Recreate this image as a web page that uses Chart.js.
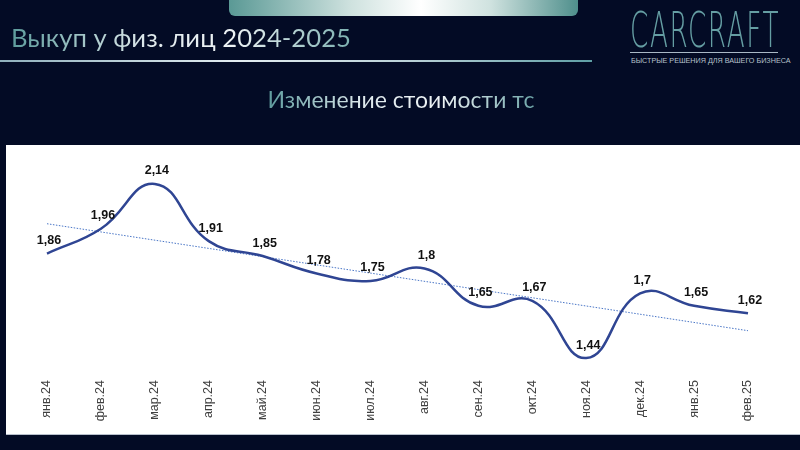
<!DOCTYPE html>
<html lang="ru">
<head>
    <meta charset="UTF-8">
    <title>Выкуп у физ. лиц 2024-2025</title>
    <style>
        body {
            margin: 0;
            width: 800px;
            height: 450px;
            background-color: #030b25;
            font-family: Lato, "Noto Sans", sans-serif;
            position: relative;
            overflow: hidden;
        }

        .top-bar {
            position: absolute;
            left: 229px;
            top: 0;
            width: 349px;
            height: 16px;
            border-radius: 0 0 6px 6px;
            background: linear-gradient(90deg, #5a9995 0%, #cfe2df 35%, #ffffff 55%, #cfe2df 75%, #4f8f8c 100%);
        }

        .title {
            position: absolute;
            left: 11px;
            top: 22px;
            font-size: 25.7px;
            white-space: nowrap;
            background: linear-gradient(90deg, #5d9c9c 0%, #dfe9ec 40%, #eef3f5 65%, #7db1b1 100%);
            -webkit-background-clip: text;
            background-clip: text;
            color: transparent;
        }

        .title-line {
            position: absolute;
            left: 0;
            top: 60px;
            width: 592px;
            height: 2px;
            background: linear-gradient(90deg, #8fb0bc 0%, #e4eef2 40%, #b8d0d6 70%, #5f9fa5 100%);
        }

        .logo {
            position: absolute;
            left: 630px;
            top: 1px;
            font-family: "DejaVu Sans", sans-serif;
            font-weight: 200;
            font-size: 50px;
            line-height: 58px;
            letter-spacing: 3px;
            color: #659ea3;
            transform-origin: left top;
            white-space: nowrap;
        }

        .logo-line {
            position: absolute;
            left: 630px;
            top: 52px;
            width: 148px;
            height: 1px;
            background: #a9b8c6;
        }

        .logo-sub {
            position: absolute;
            left: 631px;
            top: 56px;
            font-family: "Liberation Sans", sans-serif;
            font-size: 7.2px;
            color: #b7c2cc;
            white-space: nowrap;
        }

        .subtitle {
            position: absolute;
            left: 0;
            width: 802px;
            top: 85px;
            text-align: center;
            font-size: 23px;
        }

        .subtitle span {
            background: linear-gradient(90deg, #5f9c9e 0%, #dde8ec 35%, #eef3f5 65%, #6ea5a8 100%);
            -webkit-background-clip: text;
            background-clip: text;
            color: transparent;
        }

        .panel {
            position: absolute;
            left: 6px;
            top: 145px;
            width: 794px;
            height: 289px;
            background: #ffffff;
            border-bottom: 1px solid #b8c0cc;
        }
    </style>
</head>
<body>
    <div class="top-bar"></div>
    <div class="title">Выкуп у физ. лиц 2024-2025</div>
    <div class="title-line"></div>
    <div class="logo" id="logo">CARCRAFT</div>
    <div class="logo-line"></div>
    <div class="logo-sub">БЫСТРЫЕ РЕШЕНИЯ ДЛЯ ВАШЕГО БИЗНЕСА</div>
    <div class="subtitle"><span>Изменение стоимости тс</span></div>
    <div class="panel">
        <canvas id="myChart"></canvas>
    </div>
    <script src="https://cdn.jsdelivr.net/npm/chart.js"></script>
    <script>
        // Месяцы
        const months = ['янв.24', 'фев.24', 'мар.24', 'апр.24', 'май.24', 'июн.24', 'июл.24',
            'авг.24', 'сен.24', 'окт.24', 'ноя.24', 'дек.24', 'янв.25', 'фев.25'];

        // Стоимость (значения с графика)
        const prices = [1.86, 1.96, 2.14, 1.91, 1.85, 1.78, 1.75, 1.8, 1.65, 1.67, 1.44, 1.7, 1.65, 1.62];

        // Линия тренда: начало и конец
        const trendStart = 1.98;
        const trendEnd = 1.55;

        const trendData = months.map((m, i) => {
            if (i === 0) return trendStart;
            if (i === months.length - 1) return trendEnd;
            return null;
        });

        // логотип: узкий шрифт, подгоняем ширину под 150px
        const logo = document.getElementById('logo');
        const lw = logo.getBoundingClientRect().width;
        logo.style.transform = 'scale(' + (150 / lw) + ', 1)';

        // Подписи значений над точками
        const valueLabels = {
            id: 'valueLabels',
            afterDatasetsDraw(chart) {
                const ctx = chart.ctx;
                const meta = chart.getDatasetMeta(0);
                ctx.save();
                ctx.font = 'bold 12.5px "Liberation Sans", Arial, sans-serif';
                ctx.fillStyle = '#111111';
                ctx.textAlign = 'center';
                ctx.textBaseline = 'middle';
                meta.data.forEach((pt, i) => {
                    const txt = String(prices[i]).replace('.', ',');
                    ctx.fillText(txt, pt.x + 2, pt.y - 13);
                });
                ctx.restore();
            }
        };

        const ctx = document.getElementById('myChart').getContext('2d');

        new Chart(ctx, {
            type: 'line',
            data: {
                labels: months,
                datasets: [
                    {
                        label: 'Стоимость',
                        data: prices,
                        borderColor: '#2f4593',
                        borderWidth: 2.5,
                        tension: 0.45,
                        pointRadius: 0,
                        fill: false,
                        order: 0
                    },
                    {
                        label: 'Тренд',
                        data: trendData,
                        borderColor: '#4a76c6',
                        borderWidth: 1,
                        borderDash: [1.5, 1.5],
                        spanGaps: true,
                        tension: 0,
                        pointRadius: 0,
                        fill: false,
                        order: 1
                    }
                ]
            },
            options: {
                responsive: true,
                maintainAspectRatio: false,
                animation: false,
                layout: {
                    padding: { left: 41, right: 52, top: 24, bottom: 0 }
                },
                plugins: {
                    legend: { display: false },
                    tooltip: { enabled: false }
                },
                scales: {
                    y: {
                        display: false,
                        min: 1.4,
                        max: 2.2
                    },
                    x: {
                        grid: { display: false },
                        border: { display: false },
                        afterFit(scale) {
                            scale.height = 66;
                        },
                        ticks: {
                            minRotation: 90,
                            maxRotation: 90,
                            padding: 4,
                            color: '#404040',
                            font: { family: '"Liberation Sans", Arial, sans-serif', size: 12.5 }
                        }
                    }
                }
            },
            plugins: [valueLabels]
        });
    </script>
</body>
</html>
